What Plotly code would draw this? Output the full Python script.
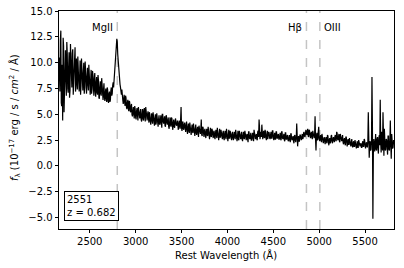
import numpy as np
import plotly.graph_objects as go

# Rest-frame wavelength grids (Angstrom): set A starts at 2165, set B at 2170, step 10
wave_start_a = 2165
wave_start_b = 2170
wave_step = 10

# Flux density values (1e-17 erg/s/cm^2/A)
flux_a_2165_2655 = [
    10.5, 7.2, 13.1, 5.8, 4.4, 11.6, 7.0, 11.2, 6.8, 10.9,
    7.1, 11.0, 7.3, 10.6, 7.6, 11.3, 8.0, 10.1, 7.2, 10.4,
    7.4, 9.9, 7.2, 10.2, 7.8, 9.6, 7.3, 10.0, 7.6, 9.4,
    7.0, 9.5, 7.3, 9.0, 6.9, 9.3, 7.4, 8.8, 6.8, 9.0,
    6.7, 8.6, 6.9, 8.3, 6.5, 8.2, 6.8, 7.9, 6.4, 8.0,
]
flux_a_2665_3155 = [
    6.3, 7.5, 6.2, 7.4, 6.1, 7.2, 6.4, 7.6, 7.0, 8.1,
    8.2, 9.0, 10.5, 12.3, 10.8, 9.2, 8.0, 7.6, 6.9, 7.1,
    6.0, 6.9, 5.8, 6.6, 5.5, 6.4, 5.3, 6.2, 5.2, 6.0,
    4.8, 5.7, 4.6, 5.5, 4.5, 5.6, 4.4, 5.4, 4.6, 5.5,
    4.3, 5.5, 4.4, 5.6, 4.3, 5.2, 4.4, 5.3, 4.2, 5.0,
]
flux_a_3165_3655 = [
    4.0, 5.1, 4.1, 4.9, 3.9, 5.0, 4.2, 4.8, 3.8, 4.9,
    4.0, 4.9, 3.7, 5.0, 4.1, 4.8, 3.8, 4.9, 4.0, 4.7,
    3.6, 4.7, 3.8, 4.6, 3.5, 4.5, 3.7, 4.6, 3.9, 4.4,
    3.5, 4.4, 3.6, 5.7, 3.4, 4.3, 3.5, 4.2, 3.3, 4.3,
    3.1, 4.1, 3.2, 3.9, 3.0, 4.0, 3.2, 3.8, 2.9, 4.0,
]
flux_a_3665_4155 = [
    3.0, 3.8, 2.8, 3.7, 3.1, 4.5, 2.9, 3.7, 2.8, 3.6,
    2.7, 3.6, 2.9, 3.5, 2.6, 3.7, 2.8, 3.5, 2.7, 3.4,
    2.6, 3.5, 2.7, 3.4, 2.5, 3.6, 2.8, 3.3, 2.6, 3.4,
    2.5, 3.4, 2.6, 3.3, 2.4, 3.5, 2.7, 3.2, 2.5, 3.3,
    2.5, 3.3, 2.6, 3.2, 2.4, 3.4, 2.5, 3.1, 2.6, 3.3,
]
flux_a_4165_4655 = [
    2.4, 3.3, 2.6, 3.2, 2.5, 3.1, 2.3, 3.3, 2.6, 3.2,
    2.5, 3.2, 2.4, 3.3, 2.6, 3.1, 2.5, 3.4, 4.5, 2.6,
    3.3, 4.0, 2.6, 3.4, 2.7, 3.3, 2.5, 3.4, 2.8, 3.2,
    2.6, 3.3, 2.7, 3.4, 2.5, 3.2, 2.6, 3.3, 2.7, 3.1,
    2.6, 3.2, 2.5, 3.3, 2.6, 3.1, 2.4, 3.2, 2.6, 3.0,
]
flux_a_4665_5155 = [
    2.4, 3.0, 2.3, 3.1, 2.5, 2.9, 2.2, 3.0, 2.3, 4.1,
    1.9, 2.9, 2.4, 3.0, 2.5, 3.1, 2.7, 3.3, 2.8, 3.5,
    3.0, 3.6, 2.8, 3.4, 2.7, 3.3, 2.6, 3.2, 2.7, 4.8,
    1.5, 3.2, 2.6, 3.8, 2.4, 3.0, 2.3, 2.9, 2.2, 2.8,
    2.1, 2.8, 2.2, 2.9, 2.0, 2.7, 2.3, 3.0, 2.2, 2.8,
]
flux_a_5165_5815 = [
    2.3, 3.0, 2.4, 3.2, 2.5, 3.1, 2.3, 2.9, 2.4, 3.0,
    2.1, 2.7, 2.0, 2.8, 1.9, 2.6, 2.1, 2.5, 1.9, 2.6,
    1.8, 2.4, 1.9, 2.3, 1.7, 2.4, 1.8, 2.3, 1.9, 2.2,
    1.8, 2.4, 1.9, 2.5, 1.7, 2.3, 1.8, 5.2, 0.8, 2.4,
    1.6, 8.6, -5.1, 2.6, 1.4, 3.1, 1.5, 2.8, 1.2, 3.0,
    6.4, 1.3, 2.6, 5.2, 1.0, 2.7, 1.6, 2.5, 1.1, 2.9,
    1.5, 4.4, 0.7, 2.6, 1.8, 2.4,
]

flux_b_2170_2660 = [
    8.9, 12.2, 6.1, 9.8, 12.4, 5.2, 10.3, 8.4, 12.0, 7.5,
    9.6, 6.6, 11.8, 8.2, 10.9, 6.9, 9.4, 11.5, 7.8, 9.1,
    10.6, 8.1, 9.3, 6.9, 10.4, 8.2, 9.0, 7.0, 10.1, 7.9,
    8.6, 7.9, 9.8, 7.5, 8.2, 7.0, 9.2, 7.6, 8.5, 7.2,
    8.1, 7.1, 8.8, 6.6, 7.6, 7.0, 8.5, 6.5, 7.4, 6.6,
]
flux_b_2670_3160 = [
    7.1, 6.5, 7.6, 6.3, 7.0, 6.2, 7.3, 6.8, 7.8, 7.6,
    8.7, 9.8, 11.6, 12.0, 10.0, 8.6, 7.9, 7.1, 7.4, 6.4,
    6.5, 6.2, 6.8, 5.7, 6.1, 5.6, 6.3, 5.4, 5.8, 5.0,
    5.3, 5.0, 5.8, 4.7, 5.3, 4.9, 5.7, 4.8, 5.2, 4.5,
    5.0, 4.6, 5.4, 4.7, 5.7, 4.5, 5.0, 4.6, 5.2, 4.3,
]
flux_b_3170_3660 = [
    4.6, 4.4, 5.2, 4.3, 4.6, 4.0, 5.1, 4.4, 4.5, 4.1,
    4.5, 4.2, 5.0, 4.3, 4.5, 3.9, 4.8, 4.2, 4.4, 3.8,
    4.2, 4.0, 4.7, 3.9, 4.2, 3.8, 4.3, 4.1, 4.0, 3.6,
    4.1, 3.8, 4.5, 3.7, 4.2, 3.6, 4.0, 3.7, 3.9, 3.5,
    3.7, 3.4, 4.2, 3.5, 3.6, 3.3, 4.1, 3.3, 3.6, 3.2,
]
flux_b_3670_4160 = [
    3.5, 3.2, 3.9, 3.3, 3.5, 3.0, 3.8, 3.2, 3.4, 3.0,
    3.3, 3.0, 3.8, 3.1, 3.2, 2.9, 3.6, 3.0, 3.3, 2.8,
    3.2, 2.9, 3.7, 3.0, 3.1, 2.8, 3.5, 2.9, 3.2, 2.7,
    3.1, 2.8, 3.6, 2.9, 3.0, 2.7, 3.4, 2.8, 3.1, 2.7,
    3.0, 2.8, 3.5, 2.8, 2.9, 2.6, 3.4, 2.7, 3.0, 2.6,
]
flux_b_4170_4660 = [
    2.9, 2.7, 3.4, 2.8, 3.0, 2.6, 3.3, 2.7, 2.9, 2.5,
    2.9, 2.7, 3.5, 2.8, 2.9, 2.6, 3.3, 2.8, 3.7, 3.0,
    2.8, 3.3, 3.0, 2.8, 3.5, 2.7, 3.0, 2.6, 3.3, 2.7,
    3.0, 2.7, 3.4, 2.8, 2.9, 2.6, 3.3, 2.7, 3.0, 2.6,
    2.9, 2.6, 3.3, 2.7, 2.8, 2.5, 3.2, 2.6, 2.9, 2.5,
]
flux_b_4670_5160 = [
    2.7, 2.5, 3.1, 2.6, 2.7, 2.4, 2.9, 2.5, 2.7, 3.0,
    2.6, 2.4, 3.0, 2.7, 2.8, 2.6, 3.2, 2.9, 3.1, 3.3,
    3.2, 2.9, 3.5, 3.0, 3.1, 2.8, 3.4, 2.9, 3.0, 2.6,
    2.9, 2.5, 3.3, 2.6, 2.7, 2.5, 3.1, 2.4, 2.6, 2.4,
    2.6, 2.3, 3.0, 2.4, 2.5, 2.2, 2.9, 2.4, 2.6, 2.5,
]
flux_b_5170_5820 = [
    2.8, 2.5, 3.3, 2.6, 2.8, 2.4, 3.1, 2.6, 2.7, 2.3,
    2.5, 2.2, 2.8, 2.3, 2.4, 2.1, 2.7, 2.2, 2.3, 2.0,
    2.2, 1.9, 2.5, 2.0, 2.1, 1.8, 2.5, 2.0, 2.1, 1.8,
    2.2, 1.9, 2.6, 2.0, 2.1, 1.9, 2.4, 2.9, 2.0, 1.5,
    2.5, 3.9, 1.2, 2.2, 2.8, 1.6, 2.6, 1.7, 2.7, 2.0,
    2.3, 3.3, 1.5, 2.4, 3.6, 1.5, 2.6, 1.8, 2.9, 1.6,
    2.3, 2.0, 3.1, 1.7, 2.5, 2.1,
]

flux_a = (flux_a_2165_2655 + flux_a_2665_3155 + flux_a_3165_3655 + flux_a_3665_4155
          + flux_a_4165_4655 + flux_a_4665_5155 + flux_a_5165_5815)
flux_b = (flux_b_2170_2660 + flux_b_2670_3160 + flux_b_3170_3660 + flux_b_3670_4160
          + flux_b_4170_4660 + flux_b_4670_5160 + flux_b_5170_5820)
wave_a = wave_start_a + wave_step * np.arange(len(flux_a))
wave_b = wave_start_b + wave_step * np.arange(len(flux_b))
wave = np.concatenate([wave_a, wave_b])
flux = np.concatenate([flux_a, flux_b])
order = np.argsort(wave, kind="stable")
wave, flux = wave[order], flux[order]

# Emission lines
line_names = ["MgII", "Hβ", "OIII"]
line_waves = [2800, 4861, 5007]
line_label_side = ["left", "left", "right"]

object_id = "2551"
redshift = 0.682

x_range = [2165, 5815]
y_range = [-6.1, 15.0]
x_ticks = [2500, 3000, 3500, 4000, 4500, 5000, 5500]
y_ticks = [-5.0, -2.5, 0.0, 2.5, 5.0, 7.5, 10.0, 12.5, 15.0]

FONT = "DejaVu Sans, Liberation Sans, sans-serif"
W, H = 404, 268
SL, SR, ST, SB = 59, 394, 11, 229  # plot-area edges in pixels
L, T, R, B = SL, ST, W - SR, H - SB
PW, PH = SR - SL, SB - ST

fig = go.Figure()
fig.add_trace(go.Scatter(x=wave, y=flux, mode="lines",
                         line=dict(color="black", width=1.2),
                         hoverinfo="skip", showlegend=False))

shapes = []
annotations = []
for name, lw, side in zip(line_names, line_waves, line_label_side):
    shapes.append(dict(type="line", xref="x", yref="paper", x0=lw, x1=lw, y0=0, y1=1,
                       line=dict(color="#c4c4c4", width=1.5, dash="dash"), layer="below"))
    annotations.append(dict(x=lw, y=13.4, xref="x", yref="y", text=name, showarrow=False,
                            xanchor="right" if side == "left" else "left",
                            xshift=-2 if side == "left" else 2,
                            font=dict(size=10, color="black", family=FONT)))

annotations.append(dict(x=(64 - SL) / PW, y=(SB - 221) / PH, xref="paper", yref="paper",
                        xanchor="left", yanchor="bottom", align="left", showarrow=False,
                        text=f"{object_id}<br>z = {redshift:.3f}",
                        font=dict(size=10, color="black", family=FONT),
                        bordercolor="black", borderwidth=1, borderpad=2, bgcolor="white"))

# axis titles as annotations for exact placement
annotations.append(dict(x=(226 - SL) / PW, y=-(255 - SB) / PH, xref="paper", yref="paper",
                        xanchor="center", yanchor="middle", showarrow=False,
                        text="Rest Wavelength (Å)",
                        font=dict(size=10, color="black", family=FONT)))
annotations.append(dict(x=-(SL - 15) / PW, y=(SB - 118) / PH, xref="paper", yref="paper",
                        xanchor="center", yanchor="middle", showarrow=False, textangle=-90,
                        text="<i>f</i><sub>λ</sub> (10<sup>−17</sup> erg / s / <i>cm</i><sup>2</sup> / Å)",
                        font=dict(size=10, color="black", family=FONT)))

fig.update_layout(
    width=W, height=H,
    margin=dict(l=L, r=R, t=T, b=B, autoexpand=False),
    paper_bgcolor="white", plot_bgcolor="white",
    font=dict(family=FONT, size=10, color="black"),
    shapes=shapes, annotations=annotations,
)
fig.update_xaxes(range=x_range, tickvals=x_ticks, ticks="outside", ticklen=3.5,
                 tickwidth=0.8, tickcolor="black", showline=True, linecolor="black",
                 linewidth=0.8, mirror=True, showgrid=False, zeroline=False,
                 automargin=False, tickfont=dict(size=10, family=FONT, color="black"))
fig.update_yaxes(range=y_range, tickvals=y_ticks, tickformat=".1f", ticks="outside",
                 ticklen=3.5, tickwidth=0.8, tickcolor="black", showline=True,
                 linecolor="black", linewidth=0.8, mirror=True, showgrid=False,
                 zeroline=False, automargin=False,
                 tickfont=dict(size=10, family=FONT, color="black"))

# remove the browser's default 8px page margin so the figure fills the window
fig.write_html("out.html", config={"displayModeBar": False},
               post_script="document.body.style.margin='0';document.body.style.overflow='hidden';")
